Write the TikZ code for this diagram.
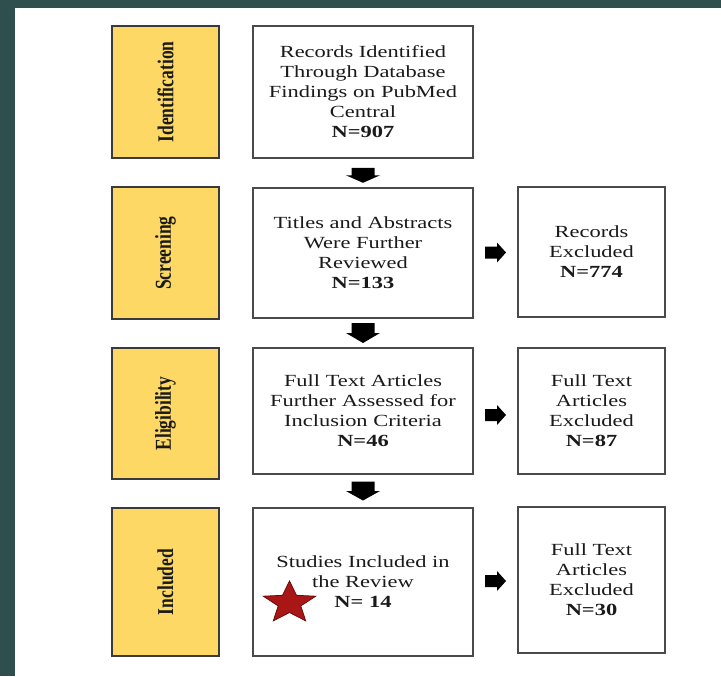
\documentclass[tikz,border=0pt]{standalone}
\usepackage{fontspec}
\setmainfont{Liberation Serif}[FakeStretch=1.32]
\newfontfamily\labelfont{Liberation Serif}
\usetikzlibrary{calc}
\definecolor{framecol}{HTML}{2F4F4F}
\definecolor{stagefill}{HTML}{FDD865}
\definecolor{stageline}{HTML}{3A3A3A}
\definecolor{boxline}{HTML}{4A4A4A}
\definecolor{textcol}{HTML}{1A1A1A}
\definecolor{starfill}{HTML}{A81616}
\definecolor{starline}{HTML}{6A0A0A}
\newcommand{\stagetext}[1]{\rotatebox{90}{\scalebox{1}[1.3]{\labelfont\bfseries\fontsize{13.1}{15}\selectfont #1}}}
\tikzset{
  stage/.style={draw=stageline, fill=stagefill, line width=0.8pt, minimum width=80.25pt, inner sep=0pt, text=textcol},
  infobox/.style={draw=boxline, fill=white, line width=0.9pt, inner sep=0pt, align=center, text=textcol,
    font=\fontsize{12.75}{15}\selectfont},
  mainbox/.style={infobox, minimum width=165pt},
  sidebox/.style={infobox, minimum width=110.25pt},
  arrowfill/.style={fill=black},
  pics/downarr/.style={code={\fill[arrowfill] (-11.5,-#1) -- (11.5,-#1) -- (11.5,0) -- (17,0) -- (0,#1) -- (-17,0) -- (-11.5,0) -- cycle;}},
  pics/rightarr/.style={code={\fill[arrowfill] (-10.5,-6) -- (1.5,-6) -- (1.5,-10) -- (10.5,0) -- (1.5,10) -- (1.5,6) -- (-10.5,6) -- cycle;}}
}
\begin{document}
\begin{tikzpicture}[x=0.75pt, y=-0.75pt]
\useasboundingbox (0,0) rectangle (721,676);
\fill[white] (0,0) rectangle (721,676);
\fill[framecol] (0,0) rectangle (721,8);
\fill[framecol] (0,0) rectangle (15,676);

% stage labels
\node[stage, minimum height=99pt]    (s1) at (165.5,92)    {\stagetext{Identification}};
\node[stage, minimum height=99pt]    (s2) at (165.5,253)   {\stagetext{Screening}};
\node[stage, minimum height=98.25pt] (s3) at (165.5,413.5) {\stagetext{Eligibility}};
\node[stage, minimum height=111pt]   (s4) at (165.5,582)   {\stagetext{Included}};

% main boxes
\node[mainbox, minimum height=99pt]   (m1) at (363,92)  {Records Identified\\Through Database\\Findings on PubMed\\Central\\\textbf{N=907}};
\node[mainbox, minimum height=97.5pt] (m2) at (363,253) {Titles and Abstracts\\Were Further\\Reviewed\\\textbf{N=133}};
\node[mainbox, minimum height=94.5pt] (m3) at (363,411) {Full Text Articles\\Further Assessed for\\Inclusion Criteria\\\textbf{N=46}};
\node[mainbox, minimum height=111pt]  (m4) at (363,582) {Studies Included in\\the Review\\\textbf{N= 14}};

% side boxes
\node[sidebox, minimum height=97.5pt] (r2) at (591.5,252) {Records\\Excluded\\\textbf{N=774}};
\node[sidebox, minimum height=94.5pt] (r3) at (591.5,411) {Full Text\\Articles\\Excluded\\\textbf{N=87}};
\node[sidebox, minimum height=109.5pt] (r4) at (591.5,580) {Full Text\\Articles\\Excluded\\\textbf{N=30}};

% down arrows
\pic at ($(m1.south)!0.58!(m2.north)$) {downarr=7.5};
\pic at ($(m2.south)!0.5!(m3.north)$) {downarr=10};
\pic at ($(m3.south)!0.5!(m4.north)$) {downarr=9.5};

% right arrows
\pic at ($(m2.east)!0.5!(r2.west)$) {rightarr};
\pic at ($($(m3.east)!0.5!(r3.west)$)+(0,4)$) {rightarr};
\pic at ($(m4.east)!0.5!(r4.west)$) {rightarr};

% star
\filldraw[fill=starfill, draw=starline, line width=0.6pt, shift={(289.5,603)}, xscale=1.25]
  (270:22) -- (306:9.5) -- (342:22) -- (18:9.5) -- (54:22) -- (90:9.5) -- (126:22) -- (162:9.5) -- (198:22) -- (234:9.5) -- cycle;
\end{tikzpicture}
\end{document}
